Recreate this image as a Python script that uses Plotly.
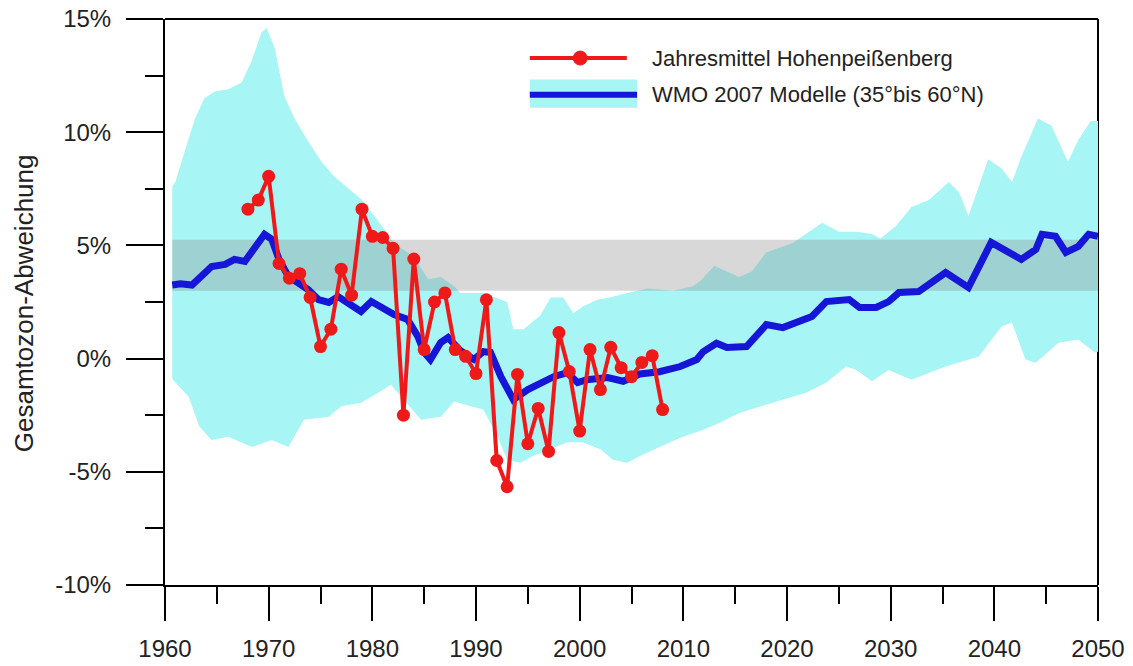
import plotly.graph_objects as go

# --- Data -------------------------------------------------------------
# Annual means Hohenpeißenberg (% deviation)
obs_years = list(range(1968, 2009))
obs_values = [6.6, 7.0, 8.05, 4.2, 3.55, 3.75, 2.7, 0.53, 1.3, 3.95,
              2.8, 6.6, 5.4, 5.35, 4.87, -2.5, 4.4, 0.4, 2.5, 2.9,
              0.4, 0.1, -0.66, 2.6, -4.5, -5.66, -0.7, -3.76, -2.2, -4.1,
              1.15, -0.57, -3.2, 0.4, -1.37, 0.5, -0.4, -0.8, -0.17, 0.13,
              -2.25]

# WMO 2007 model mean (35°-60°N)
model_years = [1960.7, 1961.5, 1962.6, 1963.3, 1964.5, 1965.8, 1966.7, 1967.7, 1968.6, 1969.6,
               1970.3, 1971.0, 1971.9, 1972.9, 1973.8, 1974.8, 1975.8, 1976.7, 1977.7, 1978.9,
               1979.9, 1980.8, 1982.1, 1983.4, 1984.4, 1985.0, 1985.6, 1986.6, 1987.3, 1988.5,
               1989.8, 1990.7, 1991.4, 1992.4, 1993.6, 1995.0, 1996.2, 1997.5, 1998.8, 1999.8,
               2000.7, 2002.7, 2004.2, 2005.8, 2007.7, 2009.7, 2011.3, 2011.9, 2013.2, 2014.2,
               2016.1, 2018.0, 2019.6, 2021.2, 2022.4, 2023.8, 2026.0, 2027.0, 2028.6, 2029.8,
               2030.8, 2032.7, 2035.3, 2037.5, 2039.7, 2042.6, 2044.0, 2044.6, 2045.9, 2046.9,
               2048.1, 2049.1, 2050.0]
model_mean = [3.25, 3.3, 3.25, 3.58, 4.07, 4.16, 4.38, 4.29, 4.82, 5.49,
              5.27, 4.38, 3.63, 3.36, 3.05, 2.61, 2.48, 2.74, 2.48, 2.08,
              2.52, 2.3, 1.95, 1.73, 0.97, 0.27, -0.04, 0.71, 0.93, 0.35,
              -0.04, 0.31, 0.27, -0.8, -1.81, -1.37, -1.06, -0.8, -0.62, -1.06,
              -0.93, -0.84, -1.0, -0.68, -0.58, -0.35, -0.04, 0.3, 0.68, 0.49,
              0.53, 1.5, 1.37, 1.64, 1.86, 2.52, 2.61, 2.26, 2.26, 2.52,
              2.92, 2.96, 3.8, 3.14, 5.13, 4.38, 4.82, 5.49, 5.4, 4.69,
              4.96, 5.49, 5.4]

# Model spread: upper edge
upper_years = [1960.7, 1961.0, 1962.0, 1962.9, 1963.8, 1964.8, 1966.1, 1967.4, 1968.4, 1969.3,
               1969.8, 1970.6, 1971.5, 1972.5, 1973.8, 1975.1, 1976.3, 1977.2, 1979.0, 1980.2,
               1982.1, 1984.0, 1985.4, 1986.6, 1987.9, 1988.5, 1990.7, 1993.0, 1993.6, 1994.6,
               1996.2, 1997.2, 1998.4, 1999.4, 2000.3, 2001.7, 2002.9, 2004.6, 2006.5, 2009.0,
               2010.9, 2011.6, 2013.0, 2014.2, 2015.4, 2016.6, 2018.0, 2020.5, 2022.4, 2023.4,
               2025.0, 2026.7, 2028.2, 2029.0, 2030.5, 2032.0, 2033.7, 2035.6, 2036.6, 2037.5,
               2038.5, 2039.4, 2040.7, 2041.7, 2042.6, 2044.2, 2045.5, 2046.5, 2047.1, 2048.1,
               2049.3, 2050.0]
upper_values = [7.6, 7.8, 9.3, 10.6, 11.5, 11.8, 11.9, 12.2, 13.2, 14.4,
                14.6, 13.7, 11.6, 10.6, 9.6, 8.7, 8.05, 7.7, 7.0, 6.3,
                5.1, 4.5, 3.5, 3.6, 3.2, 2.9, 2.9, 2.5, 1.3, 1.3,
                1.9, 2.7, 2.7, 2.0, 2.3, 2.6, 2.7, 2.9, 3.1, 3.0,
                3.2, 3.4, 4.1, 3.85, 3.6, 3.85, 4.7, 5.1, 5.7, 6.0,
                5.6, 5.6, 5.5, 5.3, 5.85, 6.7, 7.0, 7.8, 7.35, 6.3,
                7.6, 8.8, 8.4, 7.8, 8.9, 10.6, 10.3, 9.25, 8.7, 9.65,
                10.5, 10.5]

# Model spread: lower edge
lower_years = [1960.7, 1961.0, 1962.3, 1963.3, 1964.5, 1966.1, 1968.4, 1970.3, 1971.9, 1973.4,
               1975.8, 1977.0, 1978.9, 1980.6, 1981.8, 1982.8, 1984.7, 1986.6, 1987.9, 1989.5,
               1990.7, 1992.1, 1993.0, 1994.3, 1995.5, 1997.2, 1998.8, 2000.3, 2002.0, 2003.2,
               2004.6, 2005.8, 2007.7, 2009.7, 2011.6, 2013.2, 2015.4, 2018.6, 2021.9, 2023.8,
               2025.7, 2026.7, 2028.2, 2029.8, 2032.0, 2035.3, 2038.5, 2040.7, 2041.7, 2043.0,
               2044.0, 2046.2, 2048.1, 2049.7, 2050.0]
lower_values = [-0.9, -1.06, -1.7, -3.0, -3.6, -3.45, -3.9, -3.6, -3.9, -2.7,
                -2.57, -2.1, -1.95, -1.5, -1.15, -1.7, -2.7, -2.57, -1.9, -2.1,
                -2.25, -3.45, -4.47, -4.6, -4.3, -4.0, -3.7, -3.7, -4.0, -4.47,
                -4.6, -4.3, -3.9, -3.5, -3.2, -2.9, -2.4, -1.95, -1.5, -1.06,
                -0.35, -0.5, -1.0, -0.5, -0.93, -0.35, 0.09, 1.42, 1.6, -0.04,
                -0.18, 0.7, 0.84, 0.27, 0.3]

# Grey reference range
ref_start, ref_end = 1960.7, 2050.0
ref_low, ref_high = 3.0, 5.25

# Axis ticks
x_ticks = list(range(1960, 2051, 10))
x_minor = list(range(1965, 2050, 10))
y_ticks = [-10, -5, 0, 5, 10, 15]
y_tick_text = ["-10%", "-5%", "0%", "5%", "10%", "15%"]
y_minor = [-7.5, -2.5, 2.5, 7.5, 12.5]

legend_obs = "Jahresmittel Hohenpeißenberg"
legend_model = "WMO 2007 Modelle (35°bis 60°N)"
y_title = "Gesamtozon-Abweichung"

# --- Styles -----------------------------------------------------------
CYAN = "#a8f5f5"
BLUE = "#1616d8"
RED = "#ee1a1a"
FONT = "Liberation Sans, Arial, sans-serif"

fig = go.Figure()

# model spread band
fig.add_trace(go.Scatter(
    x=upper_years + lower_years[::-1],
    y=upper_values + lower_values[::-1],
    fill="toself", fillcolor=CYAN, mode="lines",
    line=dict(width=0, color=CYAN), hoverinfo="skip"))

# grey reference range
fig.add_trace(go.Scatter(
    x=[ref_start, ref_end, ref_end, ref_start],
    y=[ref_low, ref_low, ref_high, ref_high],
    fill="toself", fillcolor="rgba(140,140,140,0.34)", mode="lines",
    line=dict(width=0, color="rgba(0,0,0,0)"), hoverinfo="skip"))

# model mean
fig.add_trace(go.Scatter(
    x=model_years, y=model_mean, mode="lines",
    line=dict(color=BLUE, width=7)))

# observations
fig.add_trace(go.Scatter(
    x=obs_years, y=obs_values, mode="lines+markers",
    line=dict(color=RED, width=4),
    marker=dict(color=RED, size=13)))

axis_common = dict(
    showline=True, linewidth=2, linecolor="black",
    ticks="outside", tickwidth=2, tickcolor="black",
    showgrid=False, zeroline=False, automargin=False,
    ticklabeloverflow="allow",
    tickfont=dict(family=FONT, size=24, color="#222222"))

fig.update_xaxes(range=[1960, 2050], tickmode="array", tickvals=x_ticks,
                 ticklen=34, ticklabelstandoff=7,
                 minor=dict(tickmode="array", tickvals=x_minor, ticks="outside",
                            ticklen=17, tickwidth=2, tickcolor="black"),
                 **axis_common)
fig.update_yaxes(range=[-10, 15], tickmode="array", tickvals=y_ticks,
                 ticktext=y_tick_text, ticklen=37, ticklabelstandoff=10,
                 minor=dict(tickmode="array", tickvals=y_minor, ticks="outside",
                            ticklen=18, tickwidth=2, tickcolor="black"),
                 **axis_common)

shapes = [
    # right and top frame (behind data)
    dict(type="line", xref="paper", yref="paper", x0=1, x1=1, y0=0, y1=1,
         line=dict(color="black", width=2), layer="below"),
    dict(type="line", xref="paper", yref="paper", x0=0, x1=1, y0=1, y1=1,
         line=dict(color="black", width=2), layer="below"),
    # legend symbols
    dict(type="line", xref="paper", yref="paper", x0=0.391, x1=0.495, y0=0.931, y1=0.931,
         line=dict(color=RED, width=4)),
    dict(type="circle", xref="paper", yref="paper", xsizemode="pixel", ysizemode="pixel",
         xanchor=0.445, yanchor=0.931, x0=-7, x1=7, y0=-7, y1=7,
         fillcolor=RED, line=dict(color=RED, width=1)),
    dict(type="rect", xref="paper", yref="paper", x0=0.391, x1=0.506, y0=0.843, y1=0.893,
         fillcolor=CYAN, line=dict(width=0)),
    dict(type="line", xref="paper", yref="paper", x0=0.391, x1=0.506, y0=0.866, y1=0.866,
         line=dict(color=BLUE, width=6)),
]

annotations = [
    dict(text=legend_obs, xref="paper", yref="paper", x=0.52, y=0.931,
         xanchor="left", yanchor="middle", showarrow=False,
         font=dict(family=FONT, size=22, color="#222222")),
    dict(text=legend_model, xref="paper", yref="paper", x=0.52, y=0.866,
         xanchor="left", yanchor="middle", showarrow=False,
         font=dict(family=FONT, size=22, color="#222222")),
    dict(text=y_title, xref="paper", yref="paper", x=-0.151, y=0.498,
         xanchor="center", yanchor="middle", textangle=-90, showarrow=False,
         font=dict(family=FONT, size=26, color="#222222")),
]

fig.update_layout(
    width=1133, height=666, autosize=False,
    margin=dict(l=165, r=35, t=19, b=81),
    plot_bgcolor="white", paper_bgcolor="white",
    showlegend=False, shapes=shapes, annotations=annotations)

# remove the default 8px page margin so the figure fills the window exactly
fig.write_html(
    "out.html",
    config={"displayModeBar": False},
    post_script="document.body.style.margin='0';"
                "document.documentElement.style.overflow='hidden';")
